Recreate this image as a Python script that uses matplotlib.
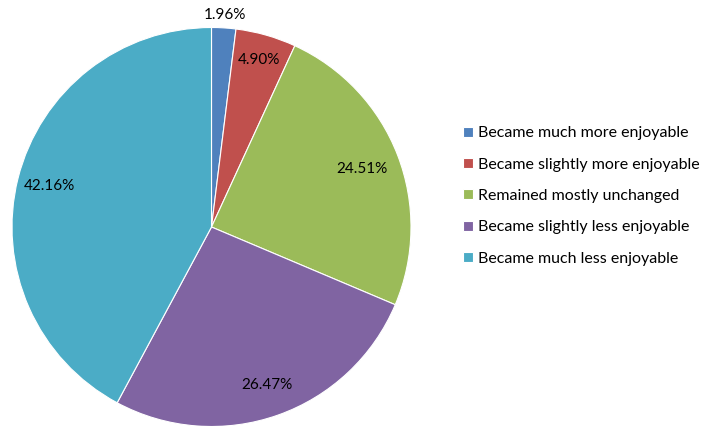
import math
import matplotlib
matplotlib.use("Agg")
import matplotlib.pyplot as plt

categories = [
    "Became much more enjoyable",
    "Became slightly more enjoyable",
    "Remained mostly unchanged",
    "Became slightly less enjoyable",
    "Became much less enjoyable",
]
shares = [1.96, 4.90, 24.51, 26.47, 42.16]
colours = ["#4F81BD", "#C0504D", "#9BBB59", "#8064A2", "#4BACC6"]

# radial position of each percentage label (1.0 = rim)
label_dist = [1.065, 0.87, 0.81, 0.84, 0.84]

plt.rcParams["font.family"] = ["Lato", "DejaVu Sans"]
W, H = 703, 426
fig = plt.figure(figsize=(W / 100, H / 100), dpi=100)

# square axes in pixel terms so the pie fills it
cx, cy, r = 211.5, 227.0, 199.5
ax = fig.add_axes([(cx - r) / W, (H - cy - r) / H, 2 * r / W, 2 * r / H])
wedges, texts, autotexts = ax.pie(
    shares,
    colors=colours,
    startangle=90,
    counterclock=False,
    autopct=lambda p: f"{p:.2f}%",
    wedgeprops=dict(edgecolor="white", linewidth=0.8),
    textprops=dict(fontsize=11, color="black"),
)
ax.set_xlim(-1, 1)
ax.set_ylim(-1, 1)
ax.set_aspect("equal")

for w, t, d in zip(wedges, autotexts, label_dist):
    mid = math.radians((w.theta1 + w.theta2) / 2)
    t.set_position((d * math.cos(mid), d * math.sin(mid)))

fig.legend(
    wedges,
    categories,
    loc="upper left",
    bbox_to_anchor=(463 / W, 1 - 126.5 / H),
    frameon=False,
    fontsize=11.5,
    handlelength=0.6,
    handleheight=0.6,
    handletextpad=0.35,
    labelspacing=1.08,
    borderpad=0,
    borderaxespad=0,
)

fig.savefig("out.png", dpi=100)
